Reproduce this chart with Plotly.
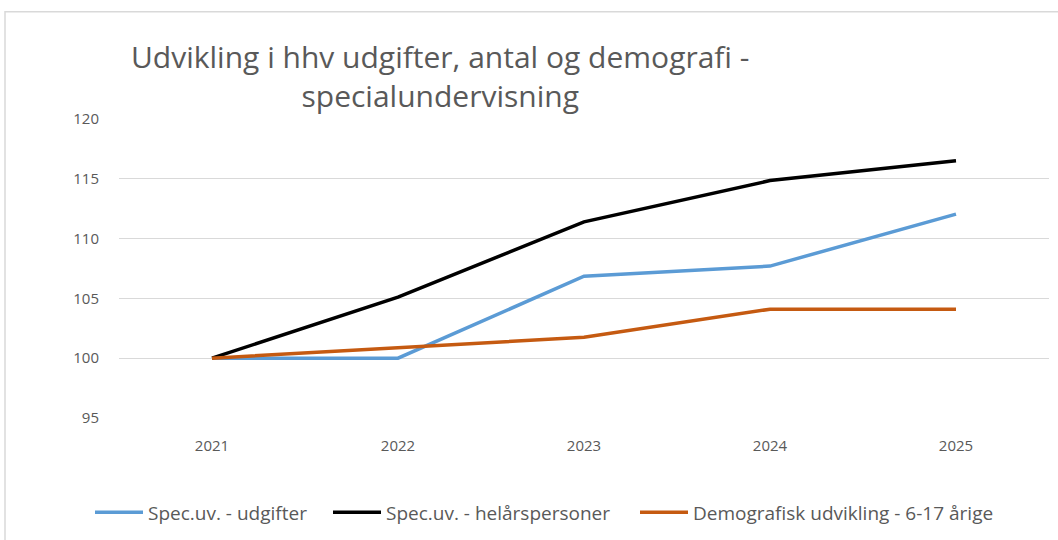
import plotly.graph_objects as go

years = ["2021", "2022", "2023", "2024", "2025"]
udgifter = [100, 100, 106.85, 107.7, 112.05]
helaarspersoner = [100, 105.1, 111.4, 114.85, 116.5]
demografi = [100, 100.9, 101.75, 104.1, 104.1]
series_names = ["Spec.uv. - udgifter", "Spec.uv. - helårspersoner", "Demografisk udvikling - 6-17 årige"]
title_text = "Udvikling i hhv udgifter, antal og demografi -<br>specialundervisning"

FONT = "Open Sans, sans-serif"
GREY = "#595959"

W, H = 1058, 540
L, R, T, B = 119, 9, 119, 120
pw, ph = W - L - R, H - T - B

legend_ids = ["legend", "legend2", "legend3"]
legend_px = [90, 328, 635]

fig = go.Figure()
for name, vals, col, lid in zip(series_names, [udgifter, helaarspersoner, demografi],
                                ["#5B9BD5", "#000000", "#C55A11"], legend_ids):
    fig.add_trace(go.Scatter(x=years, y=vals, name=name, mode="lines", legend=lid,
                             line=dict(color=col, width=3.5)))

legend_common = dict(orientation="h", xanchor="left", y=(H - B - 515) / ph, yanchor="middle",
                     font=dict(size=19, color=GREY), itemwidth=48,
                     bgcolor="rgba(0,0,0,0)")

fig.update_layout(
    width=W, height=H,
    margin=dict(l=L, r=R, t=T, b=B),
    paper_bgcolor="white", plot_bgcolor="white",
    font=dict(family=FONT, color=GREY, size=15),
    showlegend=True,
    legend=dict(x=(legend_px[0] - L) / pw, **legend_common),
    legend2=dict(x=(legend_px[1] - L) / pw, **legend_common),
    legend3=dict(x=(legend_px[2] - L) / pw, **legend_common),
    xaxis=dict(type="category", range=[-0.5, 4.5], showgrid=False, zeroline=False,
               showline=False, ticks="", ticklabelstandoff=17,
               tickfont=dict(size=15, color=GREY)),
    yaxis=dict(range=[95, 120], dtick=5, tick0=95, showgrid=True, gridcolor="#d9d9d9",
               gridwidth=1, zeroline=False, showline=False, ticks="",
               ticklabelstandoff=19, tickfont=dict(size=15, color=GREY)),
)

fig.add_annotation(text=title_text, xref="paper", yref="paper",
                   x=(440 - L) / pw, y=(H - B - 76) / ph, xanchor="center", yanchor="middle",
                   showarrow=False, align="center",
                   font=dict(size=30, color=GREY, family=FONT))

# chart frame
fig.add_shape(type="rect", xref="paper", yref="paper",
              x0=(5 - L) / pw, x1=(1070 - L) / pw,
              y0=(H - B - 560) / ph, y1=(H - B - 11) / ph,
              line=dict(color="#d9d9d9", width=1.5), layer="below")

fig.write_html("out.html", config={"displayModeBar": False},
               post_script="document.body.style.margin='0';")
